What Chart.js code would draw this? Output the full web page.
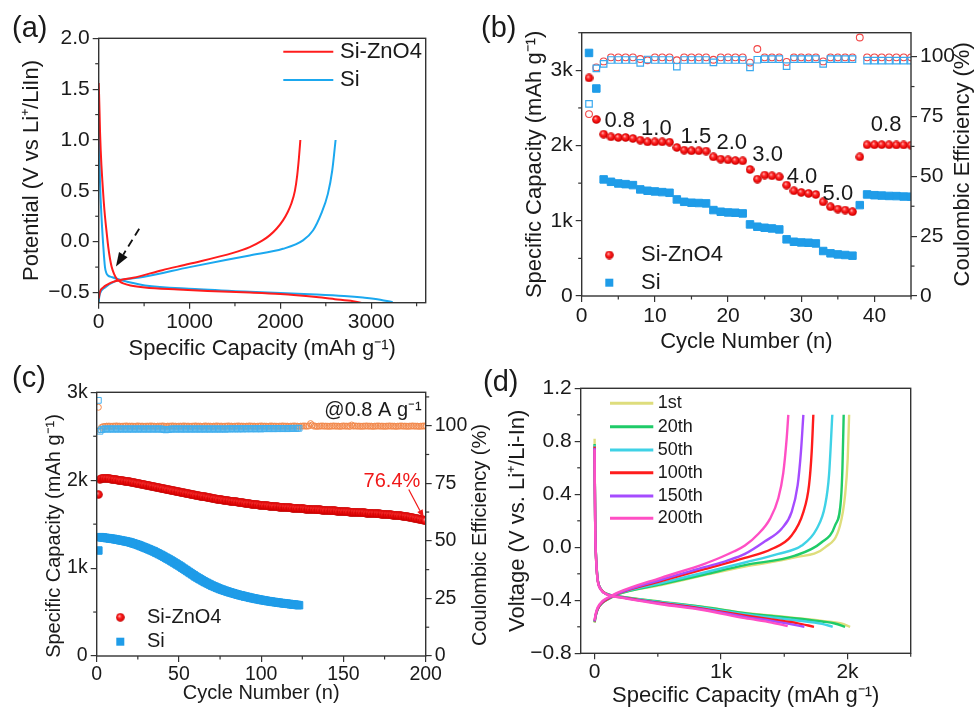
<!DOCTYPE html>
<html><head><meta charset="utf-8">
<script src="https://cdn.jsdelivr.net/npm/chart.js@4.4.1/dist/chart.umd.min.js"></script>
<style>
html,body{margin:0;padding:0;background:#fff;}
#wrap{position:relative;width:974px;height:707px;overflow:hidden;background:#fff;}
canvas{position:absolute;}
</style></head><body>
<div id="wrap">
<canvas id="ca" width="490" height="360" style="left:0;top:0;width:490px;height:360px"></canvas>
<canvas id="cb" width="504" height="360" style="left:470px;top:0;width:504px;height:360px"></canvas>
<canvas id="cc" width="490" height="347" style="left:0;top:360px;width:490px;height:347px"></canvas>
<canvas id="cd" width="504" height="347" style="left:470px;top:360px;width:504px;height:347px"></canvas>
</div>
<script>
// ================= DATA =================
// (a) first charge/discharge profiles
const aZnDisCap = [0,4,10,15,22,30,40,55,70,90,105,125,143,170,198,230,270,350,509,875,1200,1663,2000,2395,2600,2800,2908];
const aZnDisV   = [1.56,1.45,1.25,1.07,0.9,0.75,0.6,0.4,0.24,0.07,-0.05,-0.17,-0.25,-0.32,-0.365,-0.39,-0.41,-0.43,-0.45,-0.47,-0.485,-0.5,-0.515,-0.545,-0.565,-0.585,-0.605];
const aZnChCap  = [0,15,50,100,143,253,380,700,1000,1480,1663,1800,1882,1960,2029,2080,2121,2160,2185,2205,2220];
const aZnChV    = [-0.56,-0.49,-0.45,-0.42,-0.4,-0.375,-0.355,-0.28,-0.217,-0.11,-0.053,0.01,0.062,0.13,0.21,0.29,0.375,0.5,0.65,0.83,1.0];
const aSiDisCap = [0,3,6,14,33,51,69,85,99,150,253,509,1058,1600,2000,2395,2700,2908,3100,3237];
const aSiDisV   = [1.47,1.2,0.97,0.6,0.21,-0.05,-0.25,-0.31,-0.33,-0.35,-0.38,-0.43,-0.465,-0.49,-0.505,-0.52,-0.535,-0.55,-0.57,-0.595];
const aSiChCap  = [0,5,14,70,179,253,500,1000,1663,2029,2249,2359,2450,2523,2571,2608];
const aSiChV    = [-0.595,-0.55,-0.51,-0.45,-0.39,-0.375,-0.345,-0.25,-0.135,-0.07,0.013,0.11,0.276,0.47,0.70,1.0];
const aXTicks = [0,1000,2000,3000];            const aXLabels = ['0','1000','2000','3000'];
const aYTicks = [-0.5,0,0.5,1.0,1.5,2.0];      const aYLabels = ['\u22120.5','0.0','0.5','1.0','1.5','2.0'];
const aArrowFrom = [446, 0.128], aArrowTo = [190, -0.245];

// (b) rate performance
const bCycles = [1,2,3,4,5,6,7,8,9,10,11,12,13,14,15,16,17,18,19,20,21,22,23,24,25,26,27,28,29,30,31,32,33,34,35,36,37,38,39,40,41,42,43,44,45];
const bZnCap = [2899,2347,2151,2116,2107,2107,2094,2072,2049,2049,2049,2045,1974,1939,1930,1930,1926,1850,1820,1810,1800,1797,1682,1554,1607,1598,1585,1474,1399,1377,1364,1350,1252,1186,1155,1142,1120,1850,2010,2010,2012,2010,2008,2008,2005];
const bSiCap = [3231,2758,1550,1518,1496,1487,1474,1417,1399,1390,1381,1372,1284,1252,1240,1236,1231,1142,1120,1111,1107,1098,952,921,907,898,885,753,721,712,708,699,598,567,553,545,536,1208,1350,1340,1335,1330,1328,1322,1320];
const bZnCE  = [76,95.5,98,99.7,99.7,99.7,99.7,99,98.5,99.7,99.7,99.7,98.5,99.7,99.7,99.7,99.7,98.7,99.7,99.7,99.7,99.7,97.5,103.2,99.7,99.7,99.7,97.8,99.7,99.7,99.7,99.7,98,99.7,99.7,99.7,99.7,108,99.7,99.7,99.7,99.7,99.7,99.7,99.7];
const bSiCE  = [80.3,95.1,97,98.6,98.6,98.6,98.6,97.4,98.8,98.6,98.6,98.6,95.8,98.6,98.6,98.6,98.6,97.6,98.6,98.6,98.6,98.6,95.5,98.7,99,99,99,96,99,99,99,99,97,99,99,99,99,null,98.3,98.3,98.3,98.3,98.3,98.3,98.3];
const bRateText  = ['0.8','1.0','1.5','2.0','3.0','4.0','5.0','0.8'];
const bRateCycle = [5.2,10.2,15.6,20.5,25.4,30.1,35.0,41.6];
const bRateCap   = [2324,2218,2116,2028,1873,1584,1354,2271];
const bXTicks = [0,10,20,30,40];      const bXLabels = ['0','10','20','30','40'];
const bYTicks = [0,1000,2000,3000];   const bYLabels = ['0','1k','2k','3k'];
const bY2Ticks = [0,25,50,75,100];    const bY2Labels = ['0','25','50','75','100'];

// (c) long cycling at 0.8 A g-1
const cZnCap = [1837,2010,2020,2022,2022,2021,2019,2016,2013,2010,
2007,2004,2001,1998,1995,1992,1989,1986,1983,1980,
1977,1973,1970,1966,1963,1959,1956,1952,1949,1945,
1941,1937,1933,1929,1925,1921,1917,1913,1909,1905,
1901,1897,1893,1890,1886,1882,1878,1874,1870,1866,
1862,1859,1855,1852,1848,1844,1841,1837,1834,1830,
1826,1823,1819,1816,1812,1809,1805,1802,1798,1795,
1792,1789,1786,1783,1780,1777,1774,1771,1768,1765,
1762,1760,1757,1754,1752,1749,1746,1744,1741,1738,
1736,1734,1731,1729,1727,1724,1722,1720,1717,1715,
1713,1711,1709,1708,1706,1704,1702,1701,1699,1697,
1695,1694,1692,1691,1689,1688,1686,1685,1683,1682,
1681,1679,1678,1676,1675,1674,1672,1671,1669,1668,
1667,1666,1664,1663,1662,1661,1660,1658,1657,1656,
1655,1653,1652,1651,1650,1648,1647,1646,1644,1643,
1642,1641,1640,1638,1637,1636,1635,1634,1632,1631,
1630,1629,1628,1626,1625,1624,1623,1622,1620,1619,
1618,1616,1615,1613,1612,1610,1609,1607,1606,1604,
1602,1600,1598,1595,1593,1591,1589,1586,1583,1580,
1577,1573,1569,1565,1561,1557,1553,1549,1545,1540];
const cSiCap = [1200,1352,1350,1347,1345,1342,1340,1337,1335,1332,
1329,1325,1322,1318,1314,1311,1307,1303,1299,1295,
1289,1283,1277,1271,1265,1258,1250,1243,1235,1228,
1220,1212,1204,1196,1188,1178,1169,1159,1150,1140,
1129,1119,1108,1098,1087,1076,1064,1053,1041,1030,
1018,1005,993,980,968,955,943,930,918,905,
894,883,872,861,850,840,831,821,812,802,
794,786,778,770,762,756,749,743,736,730,
724,719,713,708,702,697,692,688,683,678,
674,670,665,661,657,653,649,646,642,638,
635,632,628,625,622,619,616,614,611,608,
606,603,601,598,596,594,592,589,587,585,
583,580,578];
const cZnCE = [108,98.2,99.3,99.6,99.7,99.8,99.8,99.8,99.7,99.8,99.8,99.9,99.8,99.8,99.7,99.8,99.8,99.9,99.8,99.8,
99.8,99.8,99.7,99.8,99.9,99.8,99.8,99.8,99.7,99.8,99.8,99.8,99.9,99.8,99.8,99.7,99.8,99.8,99.8,99.9,
99.8,99.7,99.8,99.8,99.8,99.9,99.8,99.8,99.7,99.8,99.8,99.8,99.9,99.8,99.8,99.8,99.7,99.8,99.8,99.9,
99.8,99.8,99.8,99.7,99.8,99.9,99.8,99.8,99.8,99.7,99.8,99.8,99.9,99.8,99.8,99.8,99.7,99.8,99.8,99.9,
99.8,99.8,99.7,99.8,99.8,99.9,99.8,99.8,99.8,99.7,99.8,99.8,99.9,99.8,99.8,99.8,99.7,99.8,99.8,99.9,
99.8,99.8,99.8,99.7,99.8,99.9,99.8,99.8,99.8,99.7,99.8,99.8,99.9,99.8,99.8,99.8,99.7,99.8,99.8,99.9,
99.8,99.8,99.7,99.8,99.8,99.9,99.8,99.8,99.9,100.9,100.3,99.8,99.8,99.7,99.8,99.8,99.9,99.8,99.8,99.8,
99.7,99.8,99.8,99.9,99.8,99.8,99.8,99.7,99.8,99.9,99.8,99.8,99.8,99.7,100.3,99.8,99.9,99.8,99.8,99.8,
99.7,99.8,99.8,99.9,99.8,99.8,99.8,99.7,99.8,99.8,99.9,99.8,99.8,99.8,99.7,99.8,99.8,99.9,99.8,99.8,
99.8,99.7,99.8,99.8,99.9,99.8,99.8,99.8,99.7,99.8,99.8,99.9,99.8,99.8,99.8,99.7,99.8,99.8,99.9,99.8];
const cSiCE = [111,97.6,98.3,98.5,98.6,98.6,98.5,98.6,98.6,98.5,
98.6,98.6,98.5,98.6,98.6,98.5,98.6,98.6,98.5,98.6,
98.6,98.5,98.6,98.6,98.5,98.6,98.6,98.5,98.6,98.6,
98.5,98.6,98.6,98.5,98.6,98.6,98.5,98.6,98.6,98.5,
98.3,98.2,98.3,98.4,98.5,98.6,98.6,98.5,98.6,98.6,
98.5,98.6,98.6,98.5,98.6,98.6,98.5,98.6,98.6,98.5,
98.6,98.6,98.5,98.6,98.6,98.5,98.6,98.6,98.5,98.6,
98.6,98.5,98.6,98.6,98.5,98.6,98.6,98.5,98.6,98.6,
98.6,98.7,98.6,98.6,98.7,98.6,98.6,98.7,98.6,98.7,
98.6,98.7,98.7,98.6,98.7,98.7,98.6,98.7,98.7,98.6,
98.7,98.7,98.8,98.7,98.7,98.8,98.7,98.7,98.8,98.7,
98.8,98.8,98.7,98.8,98.8,98.7,98.8,98.8,98.9,98.8,
98.8,98.9,98.9];
const cXTicks = [0,50,100,150,200];   const cXLabels = ['0','50','100','150','200'];
const cYTicks = [0,1000,2000,3000];   const cYLabels = ['0','1k','2k','3k'];
const cY2Ticks = [0,25,50,75,100];    const cY2Labels = ['0','25','50','75','100'];
const cRetainText = '76.4%';
const cRetainAt = [179.5, 1990], cRetainArrowFrom = [189.7, 1895], cRetainArrowTo = [198.8, 1573];

// (d) charge/discharge profiles of selected cycles
const d1stDisCap = [0,2,5,10,16,24,50,103,209,525,869,1189,1400,1600,1800,1950,2021];
const d1stDisV   = [0.82,0.48,0.15,-0.04,-0.15,-0.24,-0.316,-0.354,-0.372,-0.41,-0.45,-0.495,-0.515,-0.535,-0.555,-0.575,-0.6];
const d1stChCap  = [0,8,24,63,129,182,525,869,1189,1585,1823,1941,1981,2002,2013];
const d1stChV    = [-0.57,-0.52,-0.468,-0.418,-0.38,-0.354,-0.285,-0.21,-0.145,-0.076,0.0,0.165,0.393,0.672,1.0];
const d20DisCap  = [0,2,5,10,16,24,50,103,209,525,869,1189,1400,1600,1800,1900,1981];
const d20DisV    = [0.78,0.47,0.14,-0.04,-0.15,-0.24,-0.316,-0.354,-0.373,-0.412,-0.452,-0.497,-0.518,-0.537,-0.56,-0.575,-0.6];
const d20ChCap   = [0,8,24,63,129,182,525,869,1189,1585,1796,1902,1949,1960,1970];
const d20ChV     = [-0.565,-0.52,-0.468,-0.418,-0.38,-0.354,-0.28,-0.205,-0.135,-0.063,0.038,0.165,0.368,0.596,1.0];
const d50DisCap  = [0,2,5,10,16,24,50,103,209,525,869,1189,1400,1600,1800,1883];
const d50DisV    = [0.77,0.46,0.14,-0.04,-0.15,-0.24,-0.317,-0.355,-0.375,-0.415,-0.458,-0.505,-0.53,-0.552,-0.578,-0.6];
const d50ChCap   = [0,8,24,63,129,182,525,869,1189,1453,1638,1757,1823,1854,1880];
const d50ChV     = [-0.565,-0.52,-0.468,-0.418,-0.378,-0.352,-0.27,-0.19,-0.115,-0.05,0.013,0.14,0.317,0.545,1.0];
const d100DisCap = [0,2,5,10,16,24,50,103,209,525,869,1189,1400,1600,1735];
const d100DisV   = [0.76,0.46,0.13,-0.05,-0.16,-0.245,-0.318,-0.356,-0.377,-0.42,-0.465,-0.515,-0.545,-0.572,-0.6];
const d100ChCap  = [0,8,24,63,129,182,525,869,1189,1400,1558,1651,1696,1717,1730];
const d100ChV    = [-0.56,-0.515,-0.465,-0.415,-0.376,-0.35,-0.255,-0.165,-0.08,-0.013,0.089,0.266,0.469,0.722,1.0];
const d150DisCap = [0,2,5,10,16,24,50,103,209,525,869,1189,1400,1550,1659];
const d150DisV   = [0.75,0.45,0.13,-0.05,-0.16,-0.245,-0.32,-0.357,-0.378,-0.425,-0.47,-0.525,-0.555,-0.58,-0.6];
const d150ChCap  = [0,8,24,63,129,182,525,869,1050,1189,1347,1479,1558,1606,1632,1651];
const d150ChV    = [-0.555,-0.51,-0.46,-0.41,-0.372,-0.347,-0.245,-0.15,-0.1,-0.05,0.045,0.14,0.266,0.469,0.722,1.0];
const d200DisCap = [0,2,5,10,16,24,50,103,209,525,869,1189,1400,1527];
const d200DisV   = [0.74,0.44,0.12,-0.05,-0.16,-0.25,-0.32,-0.358,-0.38,-0.43,-0.475,-0.535,-0.568,-0.595];
const d200ChCap  = [0,8,24,63,129,182,525,869,1000,1100,1189,1294,1387,1453,1492,1519,1532];
const d200ChV    = [-0.55,-0.505,-0.455,-0.405,-0.368,-0.342,-0.23,-0.125,-0.075,-0.032,0.013,0.1,0.215,0.37,0.56,0.82,1.0];
const dCycleNames = ['1st','20th','50th','100th','150th','200th'];
const dXTicks = [0,1000,2000];                  const dXLabels = ['0','1k','2k'];
const dYTicks = [-0.8,-0.4,0,0.4,0.8,1.2];      const dYLabels = ['\u22120.8','\u22120.4','0.0','0.4','0.8','1.2'];

// ================= STYLE / HELPERS =================
const FONT = "'Liberation Sans', Arial, Helvetica, sans-serif";
const TXT = '#1a1a1a', AX = '#333333';
const RED = '#ff1c1c', BLUE = '#1ba8ef';
const D_COLORS = ['#dedd7c','#1fcb68','#3fd2e6','#ff1c1c','#a54cff','#ff4fc4'];

function pts(xs, ys) { return xs.map((x, i) => ({x: x, y: ys[i]})); }
function line(xs, ys, color, w) {
  return {data: pts(xs, ys), showLine: true, borderColor: color, borderWidth: w, pointRadius: 0,
          cubicInterpolationMode: 'monotone', fill: false};
}
function ballImg(d) {
  const c = document.createElement('canvas'); c.width = d; c.height = d;
  const g = c.getContext('2d'); const r = d / 2;
  const gr = g.createRadialGradient(r * 0.75, r * 0.7, r * 0.05, r, r, r);
  gr.addColorStop(0, '#ffb3b3'); gr.addColorStop(0.35, '#ff2b2b'); gr.addColorStop(0.8, '#e00000'); gr.addColorStop(1, '#b00000');
  g.fillStyle = gr; g.beginPath(); g.arc(r, r, r - 0.2, 0, Math.PI * 2); g.fill();
  return c;
}
function xScale(o) {
  return {
    type: 'linear', position: 'bottom', min: o.min, max: o.max,
    afterBuildTicks: s => { s.ticks = o.ticks.map(v => ({value: v})); },
    afterFit: s => { s.height = o.h; },
    ticks: {callback: (v, i) => o.labels[i], font: {family: FONT, size: o.fs, lineHeight: 1.2}, color: TXT,
            padding: o.pad, maxRotation: 0, autoSkip: false},
    grid: {display: true, drawOnChartArea: false, drawTicks: true, tickLength: 6, color: AX, lineWidth: 1.2},
    border: {display: false},
    title: {display: true, text: o.title, color: TXT, font: {family: FONT, size: o.tfs, lineHeight: 1}, padding: {top: 0, bottom: o.tpad}}
  };
}
function yScale(o) {
  const t = o.title ? {display: true, text: o.title, color: TXT, font: {family: FONT, size: o.tfs, lineHeight: 1}, padding: {top: o.tpad, bottom: 0}} : {display: false};
  return {
    type: 'linear', position: o.pos || 'left', min: o.min, max: o.max,
    afterBuildTicks: s => { s.ticks = o.ticks.map(v => ({value: v})); },
    afterFit: s => { s.width = o.w; },
    ticks: {callback: (v, i) => o.labels[i], font: {family: FONT, size: o.fs, lineHeight: 1.2}, color: TXT,
            padding: 3, autoSkip: false},
    grid: {display: true, drawOnChartArea: false, drawTicks: true, tickLength: 6, color: AX, lineWidth: 1.2},
    border: {display: false},
    title: t
  };
}
const framePlugin = {
  id: 'frame',
  afterDatasetsDraw(chart, args, opts) {
    const ctx = chart.ctx, a = chart.chartArea;
    ctx.save();
    ctx.strokeStyle = AX; ctx.lineWidth = 1.4;
    ctx.strokeRect(a.left, a.top, a.right - a.left, a.bottom - a.top);
    ctx.lineWidth = 1.2;
    (opts.minor || []).forEach(m => {
      const s = chart.scales[m.id];
      const majors = s.ticks.map(t => t.value);
      for (let k = Math.ceil(s.min / m.step - 1e-6); k * m.step <= s.max + 1e-6; k++) {
        const v = k * m.step;
        if (majors.some(t => Math.abs(t - v) < 1e-6)) continue;
        const p = s.getPixelForValue(v);
        ctx.beginPath();
        if (s.position === 'bottom') { ctx.moveTo(p, a.bottom); ctx.lineTo(p, a.bottom + 3.5); }
        else if (s.position === 'left') { ctx.moveTo(a.left, p); ctx.lineTo(a.left - 3.5, p); }
        else { ctx.moveTo(a.right, p); ctx.lineTo(a.right + 3.5, p); }
        ctx.stroke();
      }
    });
    ctx.restore();
  }
};
function text(ctx, s, x, y, size, opt) {
  opt = opt || {};
  ctx.save();
  ctx.font = size + 'px ' + FONT;
  ctx.fillStyle = opt.color || TXT;
  ctx.textAlign = opt.align || 'left';
  ctx.textBaseline = 'middle';
  ctx.translate(x, y);
  if (opt.rot) ctx.rotate(opt.rot);
  ctx.fillText(s, 0, 0);
  ctx.restore();
}
function arrow(ctx, x0, y0, x1, y1, color, w, dash, hl, hw) {
  const ang = Math.atan2(y1 - y0, x1 - x0);
  const bx = x1 - hl * Math.cos(ang), by = y1 - hl * Math.sin(ang);
  ctx.save();
  ctx.strokeStyle = color; ctx.fillStyle = color; ctx.lineWidth = w;
  if (dash) ctx.setLineDash(dash);
  ctx.beginPath(); ctx.moveTo(x0, y0); ctx.lineTo(bx, by); ctx.stroke();
  ctx.setLineDash([]);
  ctx.beginPath(); ctx.moveTo(x1, y1);
  ctx.lineTo(bx + hw / 2 * Math.sin(ang), by - hw / 2 * Math.cos(ang));
  ctx.lineTo(bx - hw / 2 * Math.sin(ang), by + hw / 2 * Math.cos(ang));
  ctx.closePath(); ctx.fill();
  ctx.restore();
}
function legLine(ctx, x0, x1, y, color, w) {
  ctx.save(); ctx.strokeStyle = color; ctx.lineWidth = w;
  ctx.beginPath(); ctx.moveTo(x0, y); ctx.lineTo(x1, y); ctx.stroke(); ctx.restore();
}
const common = {responsive: false, animation: false, devicePixelRatio: 1, events: []};
const BALL9 = ballImg(9);

// ================= (a) =================
new Chart(document.getElementById('ca'), {
  type: 'scatter',
  data: {datasets: [
    line(aZnDisCap, aZnDisV, RED, 2), line(aZnChCap, aZnChV, RED, 2),
    line(aSiDisCap, aSiDisV, BLUE, 2), line(aSiChCap, aSiChV, BLUE, 2)
  ]},
  options: Object.assign({}, common, {
    layout: {padding: {top: 38.3, right: 64.3, left: 0, bottom: 0}},
    scales: {
      x: xScale({min: 0, max: 3600, ticks: aXTicks, labels: aXLabels, h: 57.3, fs: 21, pad: 0.5,
                 title: 'Specific Capacity (mAh g\u207B\u00B9)', tfs: 22, tpad: 0}),
      y: yScale({min: -0.6, max: 2.0, ticks: aYTicks, labels: aYLabels, w: 98.7, fs: 21,
                 title: 'Potential (V vs Li\u207A/LiIn)', tfs: 22, tpad: 21})
    },
    plugins: {legend: {display: false}, tooltip: {enabled: false},
              frame: {minor: [{id: 'x', step: 500}, {id: 'y', step: 0.25}]}}
  }),
  plugins: [framePlugin, {
    id: 'aExtras',
    afterDraw(chart) {
      const ctx = chart.ctx, x = chart.scales.x, y = chart.scales.y;
      legLine(ctx, 283.3, 333.3, 51.7, RED, 2);  text(ctx, 'Si-ZnO4', 340, 51.7, 22);
      legLine(ctx, 283.3, 333.3, 80, BLUE, 2);   text(ctx, 'Si', 340, 80, 22);
      arrow(ctx, x.getPixelForValue(aArrowFrom[0]), y.getPixelForValue(aArrowFrom[1]),
            x.getPixelForValue(aArrowTo[0]), y.getPixelForValue(aArrowTo[1]), '#111', 1.8, [8, 5], 14, 10);
      text(ctx, '(a)', 12, 29, 29);
    }
  }]
});

// ================= (b) =================
new Chart(document.getElementById('cb'), {
  type: 'scatter',
  data: {datasets: [
    {data: pts(bCycles, bSiCE), yAxisID: 'y2', pointStyle: 'rect', pointRadius: 4.6, pointBorderWidth: 1.2,
     pointBorderColor: '#3aa9ef', pointBackgroundColor: 'rgba(255,255,255,0)'},
    {data: pts(bCycles, bZnCE), yAxisID: 'y2', pointStyle: 'circle', pointRadius: 3.4, pointBorderWidth: 1.1,
     pointBorderColor: '#f24646', pointBackgroundColor: 'rgba(255,255,255,0)'},
    {data: pts(bCycles, bZnCap), yAxisID: 'y', pointStyle: BALL9, pointRadius: 4.5},
    {data: pts(bCycles, bSiCap), yAxisID: 'y', pointStyle: 'rect', pointRadius: 5.3, pointBorderWidth: 1,
     pointBorderColor: '#1f9ce8', pointBackgroundColor: '#1f9ce8'}
  ]},
  options: Object.assign({}, common, {
    layout: {padding: {top: 32.7, right: 0, left: 0, bottom: 0}},
    scales: {
      x: xScale({min: 0, max: 45, ticks: bXTicks, labels: bXLabels, h: 64, fs: 21, pad: 1.2,
                 title: 'Cycle Number (n)', tfs: 22, tpad: 7.3}),
      y: yScale({min: 0, max: 3500, ticks: bYTicks, labels: bYLabels, w: 111.7, fs: 21,
                 title: 'Specific Capacity (mAh g\u207B\u00B9)', tfs: 22, tpad: 54}),
      y2: yScale({pos: 'right', min: 0, max: 110, ticks: bY2Ticks, labels: bY2Labels, w: 63, fs: 21})
    },
    plugins: {legend: {display: false}, tooltip: {enabled: false},
              frame: {minor: [{id: 'x', step: 5}, {id: 'y', step: 500}, {id: 'y2', step: 12.5}]}}
  }),
  plugins: [framePlugin, {
    id: 'bExtras',
    afterDraw(chart) {
      const ctx = chart.ctx, x = chart.scales.x, y = chart.scales.y, a = chart.chartArea;
      bRateText.forEach((s, i) => text(ctx, s, x.getPixelForValue(bRateCycle[i]), y.getPixelForValue(bRateCap[i]), 22, {align: 'center'}));
      ctx.drawImage(BALL9, 139.3 - 4.5, 255 - 4.5);
      text(ctx, 'Si-ZnO4', 171, 255, 22);
      ctx.fillStyle = '#1f9ce8'; ctx.fillRect(139.3 - 4, 282.7 - 4, 8, 8);
      text(ctx, 'Si', 171, 282.7, 22);
      text(ctx, 'Coulombic Efficiency (%)', 493, (a.top + a.bottom) / 2, 22, {align: 'center', rot: -Math.PI / 2});
      text(ctx, '(b)', 11, 29, 29);
    }
  }]
});

// ================= (c) =================
const cIdx = n => Array.from({length: n}, (_, i) => i + 1);
new Chart(document.getElementById('cc'), {
  type: 'scatter',
  data: {datasets: [
    {data: pts(cIdx(cSiCE.length), cSiCE), yAxisID: 'y2', pointStyle: 'rect', pointRadius: 4.1, pointBorderWidth: 1,
     pointBorderColor: '#45b0ee', pointBackgroundColor: 'rgba(255,255,255,0)'},
    {data: pts(cIdx(cZnCE.length), cZnCE), yAxisID: 'y2', pointStyle: 'circle', pointRadius: 3, pointBorderWidth: 1,
     pointBorderColor: '#f28a4e', pointBackgroundColor: 'rgba(255,255,255,0)'},
    {data: pts(cIdx(cZnCap.length), cZnCap), yAxisID: 'y', pointStyle: BALL9, pointRadius: 4.5},
    {data: pts(cIdx(cSiCap.length), cSiCap), yAxisID: 'y', pointStyle: 'rect', pointRadius: 5.3, pointBorderWidth: 1,
     pointBorderColor: '#1f9ce8', pointBackgroundColor: '#1f9ce8'}
  ]},
  options: Object.assign({}, common, {
    layout: {padding: {top: 32.3, right: 0, left: 0, bottom: 0}},
    scales: {
      x: xScale({min: 0, max: 200, ticks: cXTicks, labels: cXLabels, h: 51, fs: 19.5, pad: 0.6,
                 title: 'Cycle Number (n)', tfs: 20, tpad: 3.7}),
      y: yScale({min: 0, max: 3000, ticks: cYTicks, labels: cYLabels, w: 96.7, fs: 19.5}),
      y2: yScale({pos: 'right', min: 0, max: 114.5, ticks: cY2Ticks, labels: cY2Labels, w: 64.3, fs: 19.5})
    },
    plugins: {legend: {display: false}, tooltip: {enabled: false},
              frame: {minor: [{id: 'x', step: 25}, {id: 'y', step: 500}, {id: 'y2', step: 12.5}]}}
  }),
  plugins: [framePlugin, {
    id: 'cExtras',
    afterDraw(chart) {
      const ctx = chart.ctx, x = chart.scales.x, y = chart.scales.y, a = chart.chartArea;
      text(ctx, '@0.8 A g\u207B\u00B9', a.right - 4, 50, 20, {align: 'right'});
      text(ctx, cRetainText, x.getPixelForValue(cRetainAt[0]), y.getPixelForValue(cRetainAt[1]), 20, {align: 'center', color: '#f01818'});
      arrow(ctx, x.getPixelForValue(cRetainArrowFrom[0]), y.getPixelForValue(cRetainArrowFrom[1]),
            x.getPixelForValue(cRetainArrowTo[0]), y.getPixelForValue(cRetainArrowTo[1]), '#f01818', 1.2, null, 8, 6);
      ctx.drawImage(BALL9, 120.3 - 4.5, 257.3 - 4.5);
      text(ctx, 'Si-ZnO4', 147, 257.3, 20);
      ctx.fillStyle = '#1f9ce8'; ctx.fillRect(120.3 - 4, 281.7 - 4, 8, 8);
      text(ctx, 'Si', 147, 281.7, 20);
      text(ctx, 'Specific Capacity (mAh g\u207B\u00B9)', 54, 176, 20, {align: 'center', rot: -Math.PI / 2});
      text(ctx, 'Coulombic Efficiency (%)', 480, 175, 20, {align: 'center', rot: -Math.PI / 2});
      text(ctx, '(c)', 12, 19, 29);
    }
  }]
});

// ================= (d) =================
const dSets = [
  [d200DisCap, d200DisV, d200ChCap, d200ChV, D_COLORS[5]],
  [d150DisCap, d150DisV, d150ChCap, d150ChV, D_COLORS[4]],
  [d100DisCap, d100DisV, d100ChCap, d100ChV, D_COLORS[3]],
  [d50DisCap, d50DisV, d50ChCap, d50ChV, D_COLORS[2]],
  [d20DisCap, d20DisV, d20ChCap, d20ChV, D_COLORS[1]],
  [d1stDisCap, d1stDisV, d1stChCap, d1stChV, D_COLORS[0]]
];
const dDatasets = [];
dSets.forEach(s => { dDatasets.push(line(s[0], s[1], s[4], 2.4)); dDatasets.push(line(s[2], s[3], s[4], 2.4)); });
new Chart(document.getElementById('cd'), {
  type: 'scatter',
  data: {datasets: dDatasets},
  options: Object.assign({}, common, {
    layout: {padding: {top: 28.3, right: 63.3, left: 0, bottom: 0}},
    scales: {
      x: xScale({min: -110, max: 2500, ticks: dXTicks, labels: dXLabels, h: 53.7, fs: 21, pad: 0.6,
                 title: 'Specific Capacity (mAh g\u207B\u00B9)', tfs: 22, tpad: 0}),
      y: yScale({min: -0.8, max: 1.2, ticks: dYTicks, labels: dYLabels, w: 110.7, fs: 21,
                 title: 'Voltage (V vs. Li\u207A/Li-In)', tfs: 22, tpad: 37.3})
    },
    plugins: {legend: {display: false}, tooltip: {enabled: false},
              frame: {minor: [{id: 'x', step: 500}, {id: 'y', step: 0.2}]}}
  }),
  plugins: [framePlugin, {
    id: 'dExtras',
    afterDraw(chart) {
      const ctx = chart.ctx;
      const rows = [43.3, 66.7, 90, 112.7, 136, 158.3];
      dCycleNames.forEach((nm, i) => {
        legLine(ctx, 140, 183.3, rows[i], D_COLORS[i], 3);
        text(ctx, nm, 187.7, rows[i], 18);
      });
      text(ctx, '(d)', 13, 23, 29);
    }
  }]
});
</script>
</body></html>
